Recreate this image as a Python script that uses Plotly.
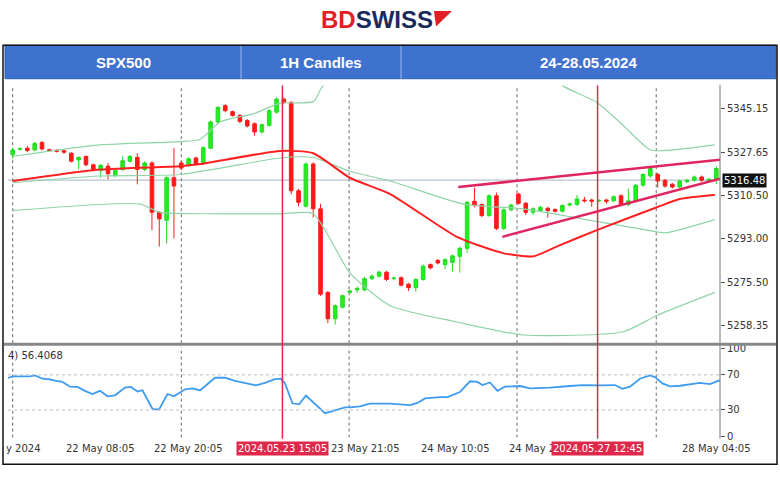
import plotly.graph_objects as go

# ---------------- data ----------------
opens = [5326.6,5328.8,5329.2,5328.5,5331.5,5328.6,5328.4,5328.2,5327.2,5324.5,5325.9,5322.6,5320.3,5322.0,5318.3,5320.7,5324.0,5325.5,5320.7,5323.3,
         5303.6,5300.4,5317.4,5323.3,5322.4,5325.3,5323.3,5329.2,5339.7,5346.2,5343.8,5342.3,5340.3,5339.0,5335.7,5338.3,5343.6,5348.8,5347.5,5312.2,
         5306.0,5322.9,5305.0,5271.6,5261.1,5265.7,5271.6,5272.6,5272.6,5277.1,5278.1,5279.7,5277.1,5277.5,5274.9,5273.5,5276.8,5282.7,5284.4,5282.7,
         5283.6,5286.0,5289.2,5308.0,5306.7,5302.3,5310.2,5297.1,5304.6,5310.9,5307.2,5303.6,5304.3,5305.2,5304.7,5304.0,5306.5,5306.7,5308.5,5308.5,
         5308.2,5308.5,5308.2,5310.2,5306.7,5308.2,5314.4,5318.1,5318.7,5316.4,5314.8,5313.7,5315.8,5316.4,5317.7,5316.1,5316.8]
closes = [5328.5,5329.0,5328.3,5331.1,5328.9,5328.3,5328.0,5327.6,5324.0,5325.5,5322.6,5320.7,5322.4,5319.0,5320.3,5324.2,5325.9,5320.7,5323.3,5303.6,
          5301.0,5317.4,5314.1,5321.3,5325.0,5322.9,5329.4,5339.7,5345.5,5344.2,5342.3,5339.9,5338.1,5335.7,5338.6,5344.2,5348.8,5347.5,5312.2,5307.6,
          5322.9,5305.0,5270.9,5261.1,5266.3,5270.3,5272.2,5273.2,5277.1,5278.1,5279.7,5276.8,5277.3,5274.5,5273.5,5276.8,5282.1,5281.4,5283.4,5284.7,
          5286.2,5289.2,5307.6,5306.3,5302.3,5310.2,5297.1,5304.6,5306.5,5307.2,5303.6,5305.0,5305.6,5304.3,5304.0,5306.3,5306.9,5308.9,5308.2,5308.0,
          5308.3,5308.0,5309.8,5306.7,5308.2,5314.4,5318.7,5321.1,5316.1,5314.1,5313.7,5316.1,5316.4,5317.7,5316.4,5316.8,5321.1]
highs = [5329.5,5329.6,5330.0,5331.8,5332.0,5329.0,5328.8,5328.6,5327.6,5326.0,5326.3,5323.0,5322.8,5323.3,5320.8,5326.0,5326.5,5327.2,5324.0,5324.0,
         5304.0,5318.0,5329.2,5324.0,5325.6,5325.8,5330.0,5340.3,5346.0,5346.8,5344.2,5342.8,5340.8,5339.5,5339.1,5344.8,5349.6,5349.5,5348.0,5313.0,
         5323.5,5323.5,5307.0,5272.2,5266.8,5270.8,5272.7,5274.0,5277.8,5278.8,5280.3,5280.2,5277.9,5278.0,5275.4,5277.3,5282.8,5283.2,5284.9,5285.2,
         5286.8,5290.0,5308.2,5313.5,5307.2,5310.8,5311.5,5305.2,5307.0,5311.4,5307.7,5305.6,5306.3,5305.8,5305.2,5306.8,5307.5,5310.5,5309.8,5309.0,
         5308.9,5309.0,5310.4,5310.8,5313.0,5315.0,5319.3,5321.8,5319.3,5317.0,5315.3,5316.7,5317.0,5318.3,5318.3,5317.4,5322.0]
lows = [5325.0,5328.3,5327.6,5328.0,5328.3,5327.8,5327.5,5327.0,5323.5,5320.7,5322.0,5320.0,5317.4,5316.8,5317.6,5320.0,5323.5,5314.8,5320.0,5296.5,
        5289.9,5291.2,5293.2,5320.5,5321.8,5322.3,5322.8,5328.8,5339.0,5343.6,5341.8,5339.2,5337.5,5334.2,5335.0,5337.8,5343.0,5346.9,5310.8,5306.0,
        5305.5,5301.5,5270.2,5259.3,5258.8,5265.2,5271.0,5271.5,5272.0,5276.5,5277.5,5276.2,5276.6,5274.0,5272.2,5271.8,5276.3,5280.8,5282.8,5281.0,
        5280.0,5279.5,5287.5,5305.6,5301.7,5301.8,5296.5,5296.6,5304.0,5306.7,5302.5,5302.5,5303.8,5301.5,5303.5,5303.5,5306.0,5306.2,5307.5,5305.8,
        5307.6,5307.0,5307.6,5306.2,5306.0,5307.6,5313.8,5317.5,5313.5,5313.4,5313.1,5313.1,5315.2,5315.8,5315.8,5315.5,5314.9]
bar_index = list(range(1, len(opens) + 1))

ma_x = [1, 12.9, 23.8, 26.6, 37.5, 42, 47, 52.5, 61.6, 67.9, 72, 75.2, 80.7, 88.9, 92, 96.8]
ma_y = [5316.1, 5320.7, 5322.0, 5322.9, 5328.1, 5327.2, 5317.4, 5310.9, 5293.8, 5287.3, 5286.0, 5289.9, 5296.5, 5305.6, 5308.9, 5310.5]

bb_mid_x = [1, 12.9, 23.8, 37.5, 42, 47, 52.5, 62.5, 70.7, 79.8, 88.9, 90.1, 96.8]
bb_mid_y = [5315.4, 5318.1, 5318.7, 5325.3, 5325.5, 5320.0, 5316.1, 5306.9, 5305.0, 5300.4, 5295.8, 5295.4, 5300.7]

bb_up_x = [1, 12.9, 23.8, 26.6, 29.3, 33.8, 37.5, 42, 43.3, 50, 60, 70, 76.1, 80.7, 84.3, 88, 91.2, 96.8]
bb_up_y = [5325.9, 5330.5, 5331.8, 5332.8, 5339.7, 5342.9, 5347.2, 5347.8, 5354.0, 5368, 5378, 5368, 5354.0, 5347.5, 5338.3, 5328.5, 5328.5, 5330.5]

bb_lo_x = [1, 18.4, 21.1, 29.3, 37.5, 42, 47, 52.5, 61.6, 70.7, 84.3, 88.9, 96.8]
bb_lo_y = [5304.3, 5306.9, 5303.6, 5303.0, 5303.0, 5303.0, 5279.4, 5266.3, 5259.8, 5254.6, 5255.9, 5262.4, 5271.6]

wedge_up_x = [61.8, 97.5]; wedge_up_y = [5313.7, 5324.6]
wedge_lo_x = [67.8, 97.5]; wedge_lo_y = [5293.8, 5317.0]

rsi_x = [0.29,1.0,3.36,4.04,5.06,6.09,6.77,7.79,8.82,9.84,10.86,11.89,12.91,13.93,14.96,16.32,17.14,18.03,18.71,20.07,
         20.96,22.12,23.0,24.51,25.53,26.55,28.6,29.96,31.33,32.69,34.19,35.42,36.65,37.6,38.15,39.17,40.06,41.01,42.24,43.61,
         44.63,46.33,47.02,48.38,49.74,51.11,52.47,53.84,55.2,56.22,57.25,59.29,60.32,62.02,63.39,64.41,65.09,66.12,67.14,68.16,
         70.21,71.57,74.3,77.03,78.73,81.12,83.17,84.19,85.22,86.58,87.95,88.63,89.65,90.67,92.04,94.77,96.13,97.5]
rsi_y = [66.4,68.2,68.2,69.3,65.6,64.9,63.5,62.0,56.5,56.2,51.8,48.2,51.8,45.6,46.7,55.5,56.2,51.1,52.5,31.1,
         30.4,48.2,45.6,53.6,54.7,52.2,66.7,66.7,63.1,60.9,58.0,60.9,64.9,65.6,60.2,37.6,36.5,46.4,36.5,26.4,
         28.6,32.9,32.9,34.0,37.3,37.6,37.3,36.5,35.5,38.0,43.1,44.6,44.6,50.4,62.7,62.0,58.4,61.3,51.8,56.5,
         57.3,54.7,55.5,57.3,58.4,58.0,58.4,54.0,56.5,65.6,69.3,67.5,60.2,56.9,57.6,60.8,59.4,63.9]

price_ticks = [5345.15, 5327.65, 5310.50, 5293.00, 5275.50, 5258.35]
rsi_ticks = [100, 70, 30, 0]
current_price = 5316.48
dotted_x = [1, 24.0, 46.9, 69.8, 88.8]
event_x = [37.8, 80.8]
event_labels = ["2024.05.23 15:05", "2024.05.27 12:45"]
time_tick_x = [8, 20, 44.2, 56.4, 68.5, 92]
time_tick_labels = ["22 May 08:05", "22 May 20:05", "23 May 21:05", "24 May 10:05", "24 May 22:05", "28 May 04:05"]

W, H = 780, 480
def px(x): return x / W
def py(y): return 1 - y / H

XR = [0.36, 97.5]
RR = [-1.5, 101.5]
band = dict(color="#8fd4a8", width=1.2, shape="spline", smoothing=0.6)
fig = go.Figure()
fig.add_trace(go.Scatter(x=bb_up_x, y=bb_up_y, mode="lines", line=band, hoverinfo="skip"))
fig.add_trace(go.Scatter(x=bb_mid_x, y=bb_mid_y, mode="lines", line=band, hoverinfo="skip"))
fig.add_trace(go.Scatter(x=bb_lo_x, y=bb_lo_y, mode="lines", line=band, hoverinfo="skip"))
fig.add_trace(go.Scatter(x=ma_x, y=ma_y, mode="lines", line=dict(color="#ff2020", width=2, shape="spline", smoothing=0.6), hoverinfo="skip"))
fig.add_trace(go.Candlestick(x=bar_index, open=opens, high=highs, low=lows, close=closes, whiskerwidth=0,
                             increasing=dict(line=dict(color="#22dd22", width=1), fillcolor="#22ee22"),
                             decreasing=dict(line=dict(color="#ff1a1a", width=1), fillcolor="#ff1a1a")))
fig.add_trace(go.Scatter(x=wedge_up_x, y=wedge_up_y, mode="lines", line=dict(color="#e0245e", width=2.5), hoverinfo="skip"))
fig.add_trace(go.Scatter(x=wedge_lo_x, y=wedge_lo_y, mode="lines", line=dict(color="#e0245e", width=2.5), hoverinfo="skip"))
fig.add_trace(go.Scatter(x=rsi_x, y=rsi_y, mode="lines", line=dict(color="#3d9bf0", width=1.8),
                         xaxis="x2", yaxis="y2", hoverinfo="skip"))

tf = dict(family="DejaVu Sans", size=10, color="#333")
fig.update_layout(
    width=W, height=H, margin=dict(l=0, r=0, t=0, b=0), showlegend=False,
    paper_bgcolor="white", plot_bgcolor="white",
    xaxis=dict(domain=[px(8), px(720)], range=XR, showgrid=False, showticklabels=False, zeroline=False,
               rangeslider=dict(visible=False), anchor="y"),
    yaxis=dict(domain=[py(345), py(83)], range=[5251.3, 5354.2], side="right", showgrid=False, zeroline=False,
               tickvals=price_ticks, ticktext=[f"{v:.2f}" for v in price_ticks], tickfont=tf,
               ticks="outside", ticklen=4, tickcolor="#555", anchor="x"),
    xaxis2=dict(domain=[px(8), px(720)], range=XR, showgrid=False, showticklabels=False, zeroline=False, anchor="y2"),
    yaxis2=dict(domain=[py(441), py(349)], range=RR, side="right", showgrid=False, zeroline=False,
                tickvals=rsi_ticks, tickfont=tf, ticks="outside", ticklen=4, tickcolor="#555", anchor="x2"),
)

shapes = []
shapes.append(dict(type="rect", xref="paper", yref="paper", x0=px(5), x1=px(776), y0=py(76), y1=py(42),
                   fillcolor="#3f72cf", line=dict(color="#2f5fb5", width=1), layer="below"))
for xx in (241, 401):
    shapes.append(dict(type="line", xref="paper", yref="paper", x0=px(xx), x1=px(xx), y0=py(76), y1=py(42),
                       line=dict(color="#9fb8e6", width=1)))
shapes.append(dict(type="rect", xref="paper", yref="paper", x0=px(3), x1=px(777), y0=py(468), y1=py(42),
                   line=dict(color="#111", width=1.5)))
shapes.append(dict(type="line", xref="paper", yref="paper", x0=px(720), x1=px(720), y0=py(442), y1=py(82),
                   line=dict(color="#777", width=1)))
shapes.append(dict(type="line", xref="paper", yref="paper", x0=px(4), x1=px(776), y0=py(346), y1=py(346),
                   line=dict(color="#888", width=3)))
shapes.append(dict(type="line", xref="x", yref="y", x0=XR[0], x1=XR[1], y0=current_price, y1=current_price,
                   line=dict(color="#b8c4d0", width=1.2), layer="below"))
for lv in (70, 30):
    shapes.append(dict(type="line", xref="x2", yref="y2", x0=XR[0], x1=XR[1], y0=lv, y1=lv,
                       line=dict(color="#bbb", width=1, dash="dot")))
for dx in dotted_x:
    for xr, yr, rg in (("x", "y", [5251.3, 5354.2]), ("x2", "y2", RR)):
        shapes.append(dict(type="line", xref=xr, yref=yr, x0=dx, x1=dx, y0=rg[0], y1=rg[1],
                           line=dict(color="#666", width=1, dash="dot"), layer="below"))
for ex in event_x:
    shapes.append(dict(type="line", xref="x", yref="paper", x0=ex, x1=ex, y0=py(442), y1=py(83),
                       line=dict(color="#e0284a", width=1.5)))
shapes.append(dict(type="path", xref="paper", yref="paper",
                   path=f"M {px(434)} {py(7)} L {px(452)} {py(7)} L {px(436)} {py(23)} Z",
                   fillcolor="#e31e24", line=dict(width=0)))
fig.update_layout(shapes=shapes)

def A(**kw):
    kw.setdefault("showarrow", False)
    kw.setdefault("yanchor", "middle")
    kw.setdefault("xanchor", "center")
    return kw

ann = []
ann.append(A(xref="paper", yref="paper", x=px(377), y=py(16), text="<b><span style='color:#e31e24'>BD</span>SWISS</b>",
             font=dict(family="Liberation Sans", size=24, color="#1b2a5c")))
for cx, t in ((123, "SPX500"), (321, "1H Candles"), (588, "24-28.05.2024")):
    ann.append(A(xref="paper", yref="paper", x=px(cx), y=py(59), text=f"<b>{t}</b>",
                 font=dict(family="Liberation Sans", size=15, color="white")))
ann.append(A(xref="paper", yref="y", x=px(722), y=current_price, xanchor="left", text=f"{current_price:.2f}",
             bgcolor="#111", font=dict(family="DejaVu Sans", size=10, color="white"), borderpad=1))
ann.append(A(xref="paper", yref="paper", x=px(6), y=py(357), xanchor="left", text="4) 56.4068", font=tf))
ann.append(A(xref="paper", yref="paper", x=px(4), y=py(452), xanchor="left", text="y 2024", font=tf))
for tx, tl in zip(time_tick_x, time_tick_labels):
    ann.append(A(xref="x", yref="paper", x=tx, y=py(452), xanchor="left", text=tl, font=tf))
for ex, el in zip(event_x, event_labels):
    ann.append(A(xref="x", yref="paper", x=ex, y=py(452), text=el, bgcolor="#e0284a",
                 font=dict(family="DejaVu Sans", size=10, color="white"), borderpad=1))
fig.update_layout(annotations=ann)

fig.write_html("out.html", config={"displayModeBar": False},
               post_script="document.body.style.margin='0';document.body.style.overflow='hidden';")
